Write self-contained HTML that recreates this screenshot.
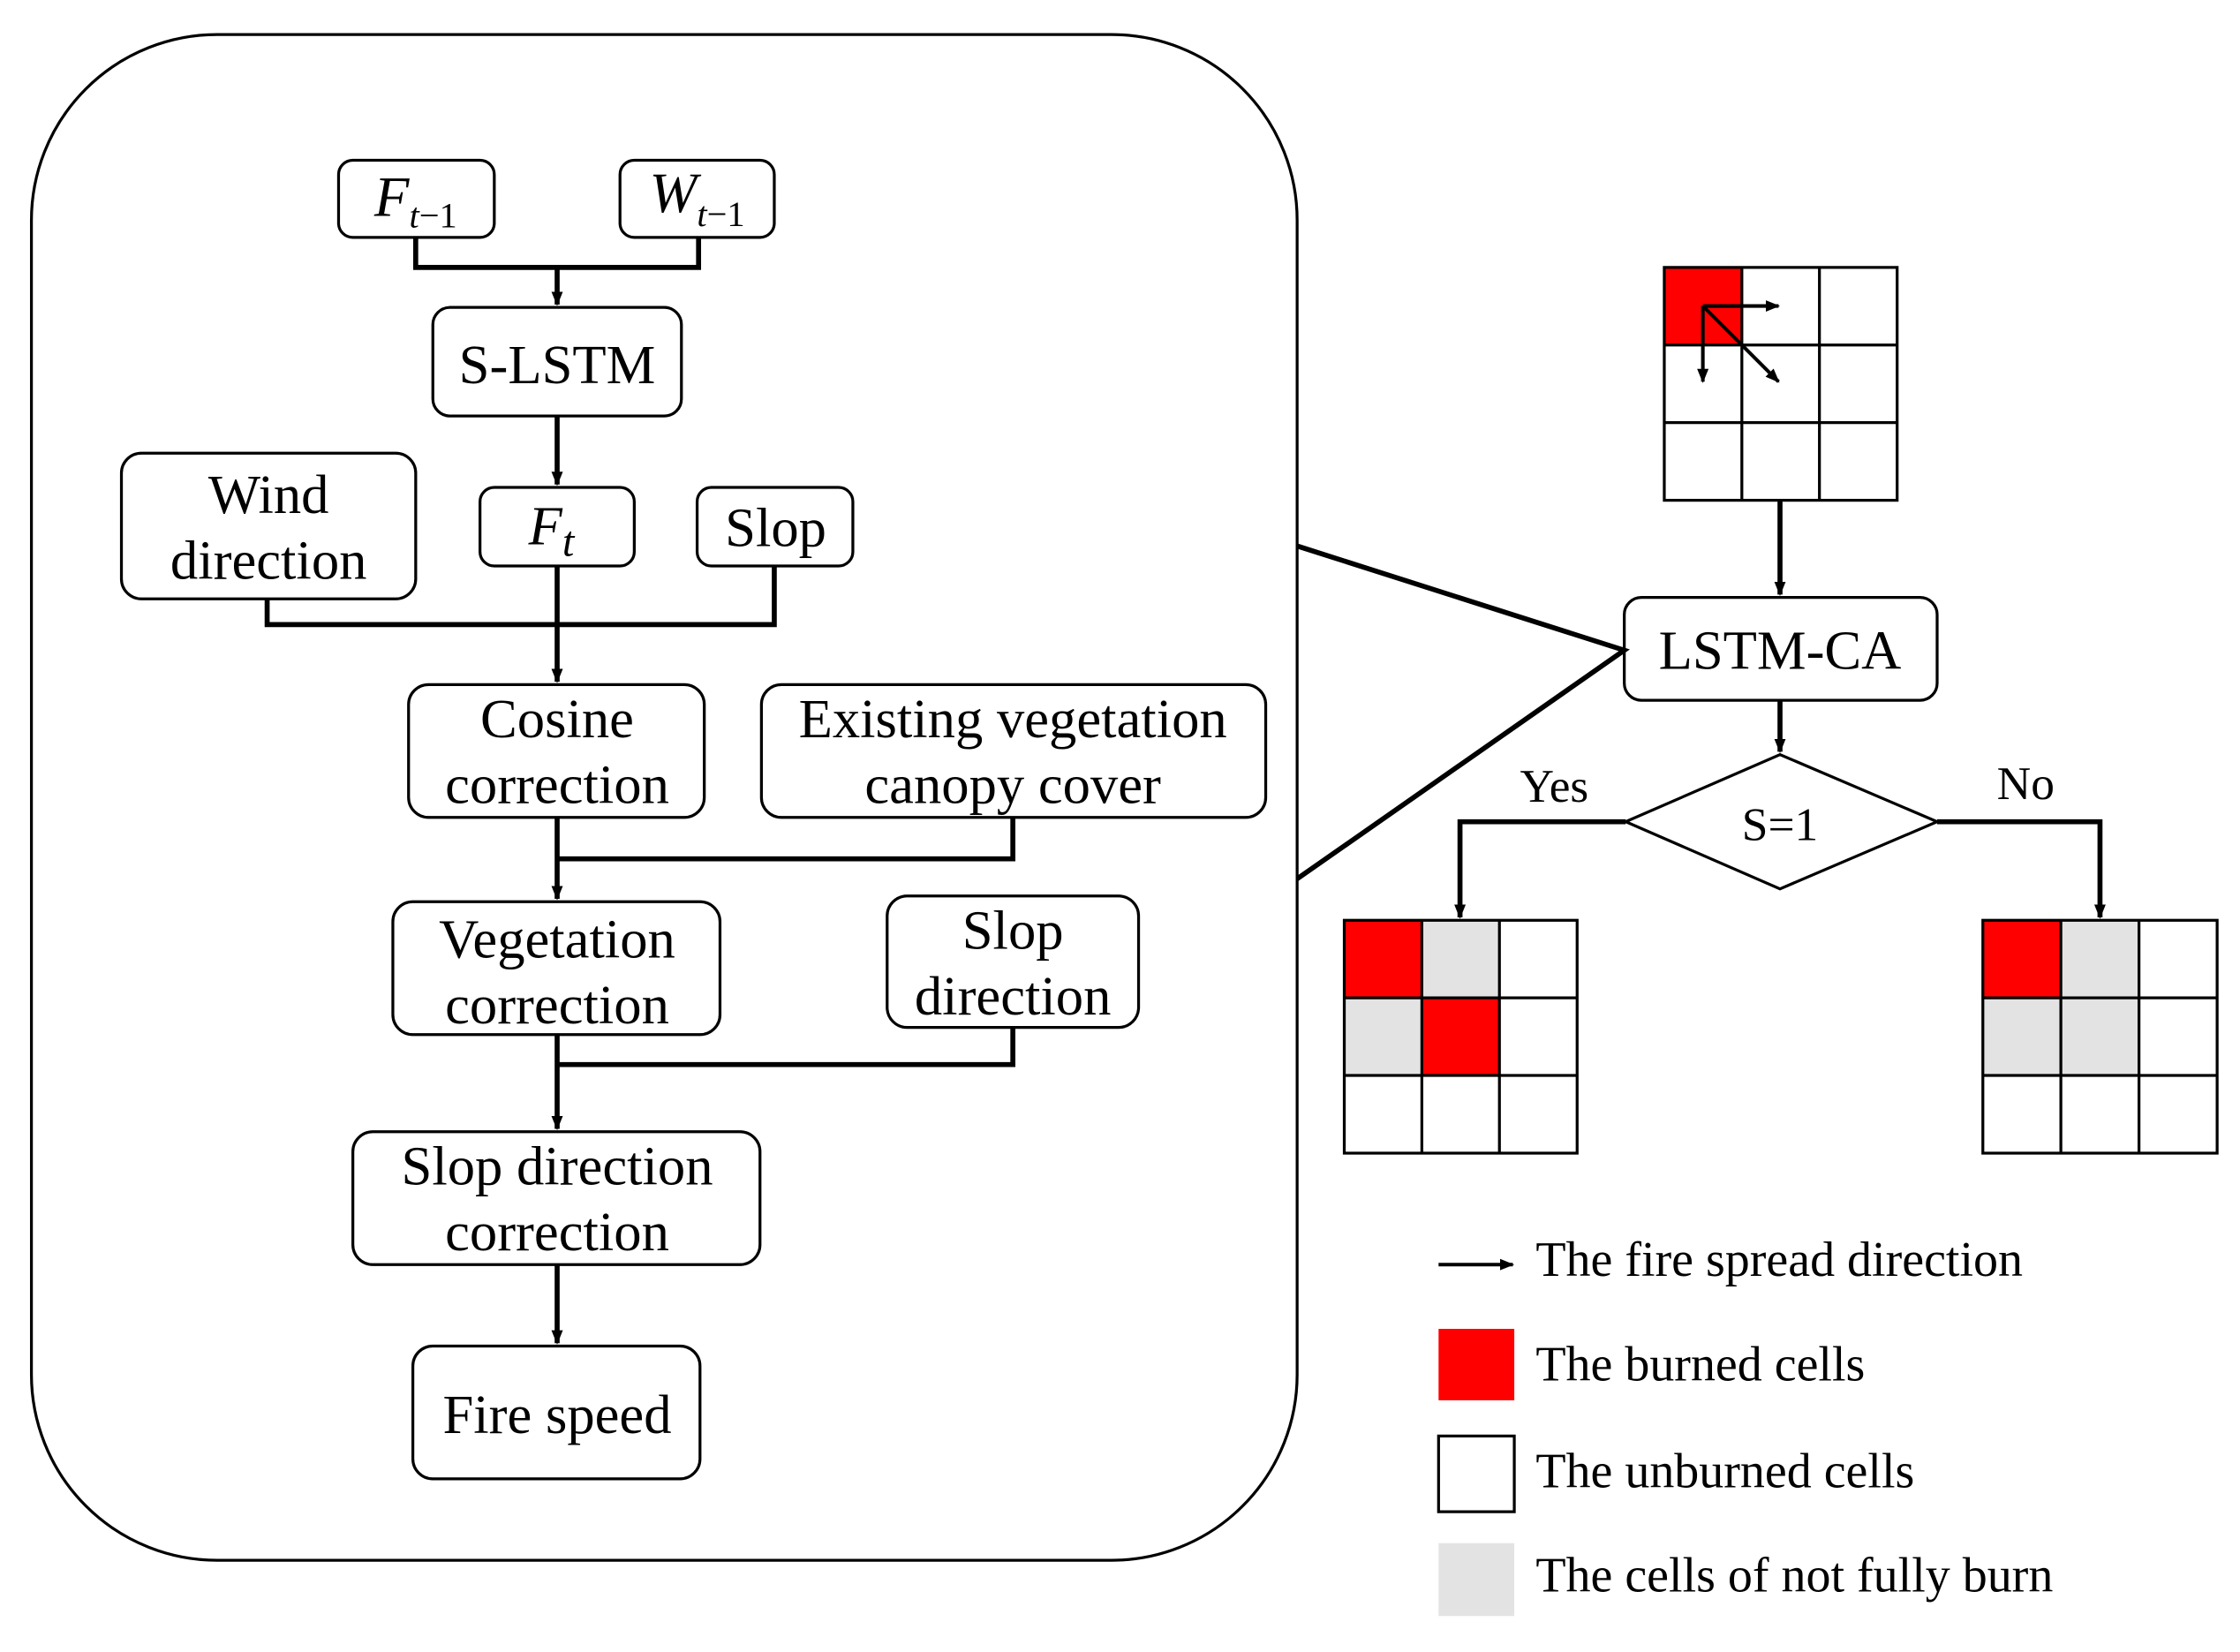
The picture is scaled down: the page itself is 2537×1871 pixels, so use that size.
<!DOCTYPE html>
<html><head><meta charset="utf-8"><style>html,body{margin:0;padding:0;background:#fff}svg{display:block}</style></head><body>
<svg width="2537" height="1871" viewBox="0 0 1568 1156" xmlns="http://www.w3.org/2000/svg" font-family="Liberation Serif, serif" font-size="38.7">
<defs><marker id="a" markerWidth="10" markerHeight="10" refX="9" refY="5" orient="auto" markerUnits="userSpaceOnUse"><path d="M0,1 L10,5 L0,9 Z" fill="#000"/></marker></defs>
<rect x="22" y="24" width="886" height="1068" rx="130" fill="none" stroke="#000" stroke-width="2"/>
<g fill="none" stroke="#000" stroke-width="2">
<rect x="237" y="112" width="109" height="54" rx="10"/>
<rect x="434" y="112" width="108" height="54" rx="10"/>
<rect x="303" y="215" width="174" height="76" rx="12"/>
<rect x="85" y="317" width="206" height="102" rx="14"/>
<rect x="336" y="341" width="108" height="55" rx="10"/>
<rect x="488" y="341" width="109" height="55" rx="10"/>
<rect x="286" y="479" width="207" height="93" rx="14"/>
<rect x="533" y="479" width="353" height="93" rx="14"/>
<rect x="275" y="631" width="229" height="93" rx="14"/>
<rect x="621" y="627" width="176" height="92" rx="14"/>
<rect x="247" y="792" width="285" height="93" rx="14"/>
<rect x="289" y="942" width="201" height="93" rx="14"/>
<rect x="1137" y="418" width="219" height="72" rx="12"/>
<path d="M1138,575 L1246,528 L1356,575 L1246,622 Z"/>
</g>
<g fill="none" stroke="#000" stroke-width="3.5">
<path d="M291,166 V187 H489 V166"/>
<path d="M390,187 V213" marker-end="url(#a)"/>
<path d="M390,291 V339" marker-end="url(#a)"/>
<path d="M187,419 V437 H542 V396"/>
<path d="M390,396 V477" marker-end="url(#a)"/>
<path d="M709,572 V601 H390"/>
<path d="M390,572 V629" marker-end="url(#a)"/>
<path d="M709,719 V745 H390"/>
<path d="M390,724 V790" marker-end="url(#a)"/>
<path d="M390,885 V940" marker-end="url(#a)"/>
<path d="M908,382 L1137,455 L908,615"/>
<path d="M1246,350 V416" marker-end="url(#a)"/>
<path d="M1246,490 V526" marker-end="url(#a)"/>
<path d="M1138,575 H1022 V642" marker-end="url(#a)"/>
<path d="M1356,575 H1470 V642" marker-end="url(#a)"/>
</g>
<g text-anchor="middle">
<text x="291" y="151"><tspan font-style="italic" font-size="40">F</tspan><tspan font-style="italic" font-size="25" dy="8">t</tspan><tspan font-size="25">−1</tspan></text>
<text x="488" y="148"><tspan font-style="italic" font-size="40">W</tspan><tspan font-style="italic" font-size="25" dy="10">t</tspan><tspan font-size="25">−1</tspan></text>
<text x="390" y="268">S-LSTM</text>
<text x="188" y="359">Wind</text><text x="188" y="405">direction</text>
<text x="386" y="381"><tspan font-style="italic">F</tspan><tspan font-style="italic" font-size="30" dy="8">t</tspan></text>
<text x="543" y="382">Slop</text>
<text x="390" y="516">Cosine</text><text x="390" y="562">correction</text>
<text x="709" y="516">Existing vegetation</text><text x="709" y="562">canopy cover</text>
<text x="390" y="670">Vegetation</text><text x="390" y="716">correction</text>
<text x="709" y="664">Slop</text><text x="709" y="710">direction</text>
<text x="390" y="829">Slop direction</text><text x="390" y="875">correction</text>
<text x="390" y="1003">Fire speed</text>
<text x="1246" y="468">LSTM-CA</text>
<text x="1246" y="588" font-size="33">S=1</text>
<text x="1088" y="561" font-size="33">Yes</text>
<text x="1418" y="559" font-size="33">No</text>
</g>
<rect x="1165" y="187" width="54.5" height="54.5" fill="#f00"/>
<g fill="none" stroke="#000" stroke-width="2">
<rect x="1165" y="187" width="163" height="163"/>
<path d="M1219.3,187 V350 M1273.6,187 V350 M1165,241.3 H1328 M1165,295.6 H1328"/>
</g>
<g stroke="#000" stroke-width="2.5">
<path d="M1192,214 H1245" marker-end="url(#a)"/>
<path d="M1192,214 V267" marker-end="url(#a)"/>
<path d="M1192,214 L1245,267" marker-end="url(#a)"/>
</g>
<rect x="941" y="644" width="54.5" height="54.5" fill="#f00"/>
<rect x="995.5" y="698.5" width="54.5" height="54.5" fill="#f00"/>
<rect x="995.5" y="644" width="54.5" height="54.5" fill="#e3e3e3"/>
<rect x="941" y="698.5" width="54.5" height="54.5" fill="#e3e3e3"/>
<g fill="none" stroke="#000" stroke-width="2">
<rect x="941" y="644" width="163" height="163"/>
<path d="M995.3,644 V807 M1049.6,644 V807 M941,698.3 H1104 M941,752.6 H1104"/>
</g>
<rect x="1388" y="644" width="54.5" height="54.5" fill="#f00"/>
<rect x="1442.5" y="644" width="54.5" height="54.5" fill="#e3e3e3"/>
<rect x="1388" y="698.5" width="109" height="54.5" fill="#e3e3e3"/>
<g fill="none" stroke="#000" stroke-width="2">
<rect x="1388" y="644" width="164" height="163"/>
<path d="M1442.6,644 V807 M1497.3,644 V807 M1388,698.3 H1552 M1388,752.6 H1552"/>
</g>
<path d="M1007,885 H1059" stroke="#000" stroke-width="2.5" marker-end="url(#a)"/>
<rect x="1007" y="930" width="53" height="50" fill="#f00"/>
<rect x="1007" y="1005" width="53" height="53" fill="#fff" stroke="#000" stroke-width="2"/>
<rect x="1007" y="1080" width="53" height="51" fill="#e3e3e3"/>
<g font-size="34.6">
<text x="1075" y="893">The fire spread direction</text>
<text x="1075" y="966">The burned cells</text>
<text x="1075" y="1041">The unburned cells</text>
<text x="1075" y="1114">The cells of not fully burn</text>
</g>
</svg>
</body></html>
